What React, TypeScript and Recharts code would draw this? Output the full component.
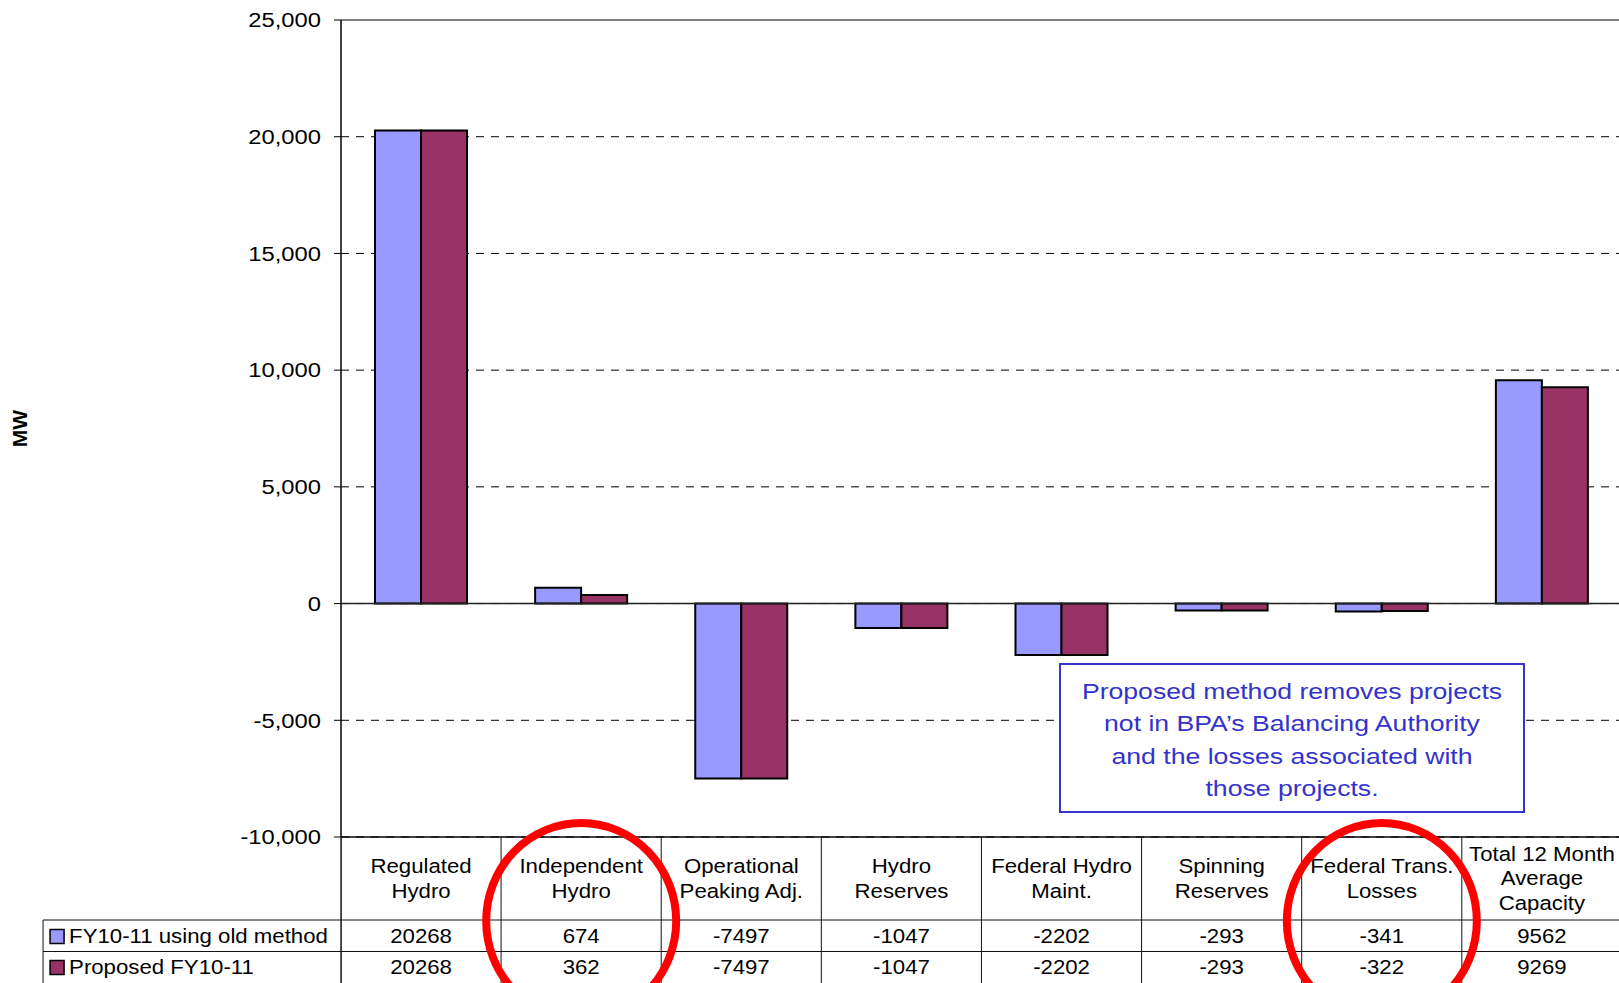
import { Bar, BarChart, CartesianGrid, ReferenceLine, XAxis, YAxis } from "recharts";

// Capacity components, MW
const categories = [
  "Regulated\nHydro",
  "Independent\nHydro",
  "Operational\nPeaking Adj.",
  "Hydro\nReserves",
  "Federal Hydro\nMaint.",
  "Spinning\nReserves",
  "Federal Trans.\nLosses",
  "Total 12 Month\nAverage\nCapacity",
];
const oldMethod = [20268, 674, -7497, -1047, -2202, -293, -341, 9562];
const proposed = [20268, 362, -7497, -1047, -2202, -293, -322, 9269];
const seriesNames = ["FY10-11 using old method", "Proposed FY10-11"];
const seriesColors = ["#9999FF", "#993366"];
const yTicks = [-10000, -5000, 0, 5000, 10000, 15000, 20000, 25000];
const circled = ["Independent\nHydro", "Federal Trans.\nLosses"];
const noteLines = [
  "Proposed method removes projects",
  "not in BPA\u2019s Balancing Authority",
  "and the losses associated with",
  "those projects.",
];

const data = categories.map((name, i) => ({
  name,
  old: oldMethod[i],
  proposed: proposed[i],
}));

const FONT = '"Liberation Sans", Arial, sans-serif';
const STRETCH = 1.14;
const BAND = 160;
const LEGEND_W = 298;
const TABLE_H = 146;
const HEADER_H = 83;
const ROW_H = 31.5;

function Stretched({
  x,
  y,
  anchor = "middle",
  size = 19.5,
  children,
}: {
  x: number;
  y: number;
  anchor?: "start" | "middle" | "end";
  size?: number;
  children: React.ReactNode;
}) {
  return (
    <g transform={`translate(${x},${y}) scale(${STRETCH},1)`}>
      <text x={0} y={0} dy="0.358em" textAnchor={anchor} fontFamily={FONT} fontSize={size} fill="#000">
        {children}
      </text>
    </g>
  );
}

function ValueTick(props: any) {
  const { x, y, payload } = props;
  return (
    <g transform={`translate(${x},${y}) scale(1.16,1)`}>
      <text x={0} y={0} dy="0.358em" textAnchor="end" fontFamily={FONT} fontSize={20.5} fill="#000">
        {Number(payload.value).toLocaleString("en-US")}
      </text>
    </g>
  );
}

// Each category tick draws its column of the data table under the plot
function TableTick(props: any) {
  const { x, y, payload } = props;
  const i: number = payload.index ?? props.index ?? 0;
  const top = y;
  const bottom = top + TABLE_H;
  const lines = String(payload.value).split("\n");
  const lh = 24.5;
  const headerMid = top + HEADER_H / 2;
  const rowMid = [top + HEADER_H + 16.5, top + HEADER_H + ROW_H + 16];
  const values = [oldMethod[i], proposed[i]];
  const stroke = "#111";

  return (
    <g>
      {i === 0 && (
        <g>
          <line x1={x - BAND / 2} y1={top} x2={x - BAND / 2} y2={bottom} stroke={stroke} strokeWidth={1.5} />
          <line x1={x - BAND / 2 - LEGEND_W} y1={top + HEADER_H} x2={x - BAND / 2 - LEGEND_W} y2={bottom} stroke={stroke} />
          {[HEADER_H, HEADER_H + ROW_H].map((dy) => (
            <line
              key={dy}
              x1={x - BAND / 2 - LEGEND_W}
              y1={top + dy}
              x2={x - BAND / 2 + BAND * categories.length}
              y2={top + dy}
              stroke={stroke}
            />
          ))}
          {seriesNames.map((s, k) => (
            <g key={s}>
              <rect
                x={x - BAND / 2 - LEGEND_W + 7}
                y={rowMid[k] - 7}
                width={14}
                height={14}
                fill={seriesColors[k]}
                stroke="#000"
                strokeWidth={1.5}
              />
              <Stretched x={x - BAND / 2 - LEGEND_W + 26} y={rowMid[k]} anchor="start">
                {s}
              </Stretched>
            </g>
          ))}
        </g>
      )}
      <line x1={x + BAND / 2} y1={top} x2={x + BAND / 2} y2={bottom} stroke={stroke} />
      {lines.map((t, k) => (
        <Stretched key={k} x={x} y={headerMid + (k - (lines.length - 1) / 2) * lh}>
          {t}
        </Stretched>
      ))}
      {values.map((v, k) => (
        <Stretched key={k} x={x} y={rowMid[k]}>
          {String(v)}
        </Stretched>
      ))}
      {circled.includes(payload.value) && (
        <ellipse cx={x} cy={top + 84} rx={95} ry={98} fill="none" stroke="#FF0000" strokeWidth={8} />
      )}
    </g>
  );
}

function MwLabel(props: any) {
  const vb = props.viewBox ?? { x: 0, y: 20, width: 341, height: 817 };
  const cx = vb.x + 19;
  const cy = vb.y + vb.height / 2;
  return (
    <text
      x={cx}
      y={cy}
      transform={`rotate(-90 ${cx} ${cy})`}
      textAnchor="middle"
      dy="0.358em"
      fontFamily={FONT}
      fontWeight="bold"
      fontSize={21}
      fill="#000"
    >
      MW
    </text>
  );
}

export default function App() {
  return (
    <div
      style={{
        position: "absolute",
        left: 0,
        top: 0,
        width: 1619,
        height: 983,
        overflow: "hidden",
        background: "#fff",
      }}
    >
      <BarChart
        width={1641}
        height={983}
        data={data}
        margin={{ top: 20, right: 19, bottom: 0, left: 0 }}
        barGap={0}
      >
        <CartesianGrid vertical={false} stroke="#000" strokeDasharray="8 7" />
        <YAxis
          type="number"
          domain={[-10000, 25000]}
          ticks={yTicks}
          width={341}
          axisLine={{ stroke: "#000", strokeWidth: 1.5 }}
          tickLine={{ stroke: "#000" }}
          tickSize={7}
          tickMargin={13}
          tick={<ValueTick />}
          label={{ position: "insideLeft", content: (p: any) => <MwLabel {...p} /> }}
        />
        <XAxis
          dataKey="name"
          interval={0}
          height={TABLE_H}
          tickSize={0}
          tickMargin={0}
          tickLine={false}
          axisLine={{ stroke: "#000", strokeWidth: 1.5 }}
          tick={<TableTick />}
        />
        <ReferenceLine y={25000} stroke="#808080" strokeWidth={2} />
        <ReferenceLine y={0} stroke="#222" strokeWidth={1.5} />
        <Bar dataKey="old" name={seriesNames[0]} fill={seriesColors[0]} stroke="#000" strokeWidth={2} barSize={46} isAnimationActive={false} />
        <Bar dataKey="proposed" name={seriesNames[1]} fill={seriesColors[1]} stroke="#000" strokeWidth={2} barSize={46} isAnimationActive={false} />
      </BarChart>
      <div
        style={{
          position: "absolute",
          left: 1059,
          top: 663,
          width: 466,
          height: 150,
          boxSizing: "border-box",
          border: "2px solid #3535CC",
          background: "#fff",
          paddingTop: 10.5,
          overflow: "hidden",
        }}
      >
        <div
          style={{
            transform: "scaleX(1.21)",
            transformOrigin: "center",
            textAlign: "center",
            fontFamily: FONT,
            fontSize: 22,
            lineHeight: "32.5px",
            color: "#3333CC",
            whiteSpace: "nowrap",
          }}
        >
          {noteLines.map((t) => (
            <div key={t}>{t}</div>
          ))}
        </div>
      </div>
    </div>
  );
}
